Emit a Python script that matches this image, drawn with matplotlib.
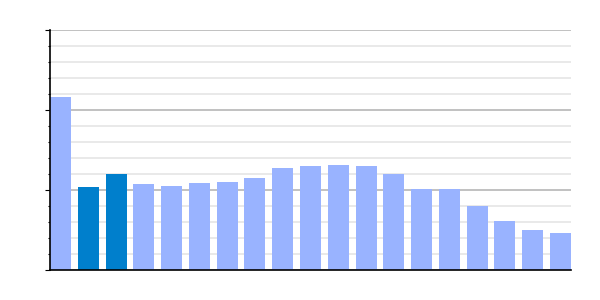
import matplotlib
matplotlib.use("Agg")
import matplotlib.pyplot as plt
import numpy as np
from matplotlib.ticker import MultipleLocator, NullFormatter

# bar heights (0..3 scale)
values = [2.16, 1.04, 1.20, 1.08, 1.05, 1.09, 1.10, 1.15, 1.28, 1.30,
          1.31, 1.30, 1.20, 1.01, 1.01, 0.80, 0.61, 0.50, 0.46]
highlight = [1, 2]

light = "#99b3ff"
dark = "#007fcc"
colors = [dark if i in highlight else light for i in range(len(values))]

fig = plt.figure(figsize=(6, 3), dpi=100)
ax = fig.add_axes([50 / 600, 30 / 300, 521 / 600, 240 / 300])

w = 0.756
x = np.arange(len(values))
ax.bar(x, values, width=w, color=colors, zorder=3)

# bars sit flush with both ends of the axis
ax.set_xlim(-w / 2, len(values) - 1 + w / 2)
ax.set_ylim(0, 3)

ax.yaxis.set_major_locator(MultipleLocator(1))
ax.yaxis.set_minor_locator(MultipleLocator(0.2))
ax.yaxis.set_major_formatter(NullFormatter())
ax.yaxis.set_minor_formatter(NullFormatter())
ax.grid(which="major", axis="y", color="#b0b0b0", linewidth=1.1, zorder=0)
ax.grid(which="minor", axis="y", color="#e3e3e3", linewidth=1.1, zorder=0)
ax.tick_params(axis="y", which="major", length=3.6, width=0.8, color="black")
ax.tick_params(axis="y", which="minor", length=1.6, width=0.8, color="black")
ax.set_xticks([])

for s in ["top", "right"]:
    ax.spines[s].set_visible(False)
ax.spines["left"].set_linewidth(1.2)
ax.spines["bottom"].set_linewidth(1.2)
ax.spines["left"].set_zorder(4)
ax.spines["bottom"].set_zorder(4)

fig.savefig("out.png", dpi=100)
